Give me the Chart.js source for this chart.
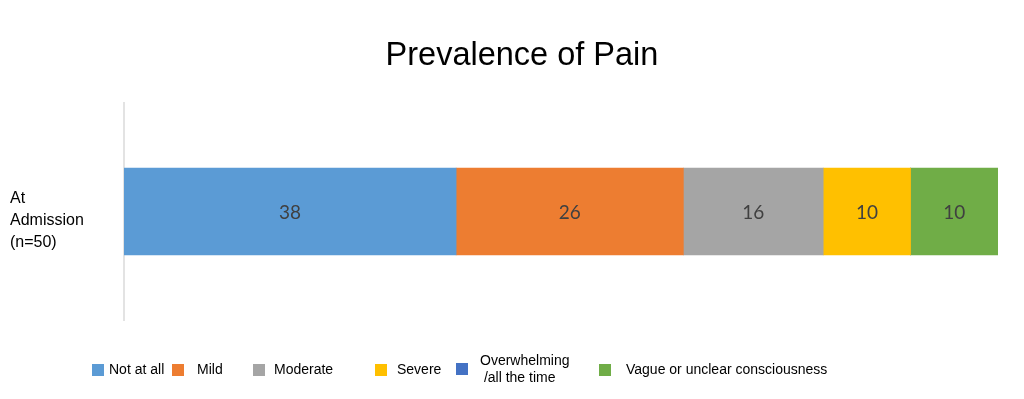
<!DOCTYPE html>
<html lang="en">
<head>
    <meta charset="UTF-8">
    <title>Prevalence of Pain</title>
    <script src="https://cdn.jsdelivr.net/npm/chart.js"></script>
    <style>
        body { margin: 0; background: #fff; }
        .wrap { position: relative; width: 1024px; height: 399px; }
        #legenda { position: absolute; left: 0; top: 0; width: 1024px; height: 399px; pointer-events: none;
                   font-family: "Liberation Sans", Arial, sans-serif; font-size: 14px; color: #000; }
        .item { position: absolute; display: flex; align-items: center; }
        .caixa { width: 12px; height: 12px; }
    </style>
</head>
<body>
<div class="wrap">
    <canvas id="myChart" width="1024" height="399"></canvas>
    <div id="legenda"></div>
</div>
<script>
    const categorias = [['At', 'Admission', '(n=50)']];
    const series = ['Not at all', 'Mild', 'Moderate', 'Severe', 'Overwhelming\n/all the time', 'Vague or unclear consciousness'];
    const valores = [38, 26, 16, 10, 0, 10];
    const cores = ['#5B9BD5', '#ED7D31', '#A5A5A5', '#FFC000', '#4472C4', '#70AD47'];

    // posição das entradas da legenda (como no original, espaçamento irregular)
    const legendaX = [92, 172, 253, 375, 456, 599];
    const legendaGap = [5, 13, 9, 10, 12, 15];

    const datasets = series.map((nome, i) => ({
        label: nome,
        data: [valores[i]],
        backgroundColor: cores[i],
        borderWidth: 0,
        barThickness: 87
    }));

    const rotulos = {
        id: 'rotulos',
        afterLayout(chart) {
            // o título do original fica um pouco à direita do centro
            const t = chart.titleBlock;
            if (t) { t.left += 18; t.right += 18; }
        },
        afterDatasetsDraw(chart) {
            const ctx = chart.ctx;
            ctx.save();
            ctx.font = '19px Lato, "Open Sans", sans-serif';
            ctx.fillStyle = '#404040';
            ctx.textAlign = 'center';
            ctx.textBaseline = 'middle';
            chart.data.datasets.forEach((ds, i) => {
                const meta = chart.getDatasetMeta(i);
                meta.data.forEach((bar, j) => {
                    const v = ds.data[j];
                    if (!v) return;
                    const meio = (bar.x + bar.base) / 2;
                    ctx.fillText(String(v), meio, bar.y + 1);
                });
            });
            ctx.restore();
        }
    };

    new Chart(document.getElementById('myChart'), {
        type: 'bar',
        data: { labels: categorias, datasets: datasets },
        options: {
            indexAxis: 'y',
            responsive: false,
            animation: false,
            layout: { padding: { left: 10, right: 26, top: 0, bottom: 79 } },
            plugins: {
                legend: { display: false },
                tooltip: { enabled: false },
                title: {
                    display: true,
                    text: 'Prevalence of Pain',
                    color: '#000',
                    font: { family: '"Liberation Sans", Arial, sans-serif', size: 32.5, weight: 'normal' },
                    padding: { top: 37, bottom: 27 }
                }
            },
            scales: {
                x: { stacked: true, min: 0, max: 100, display: false },
                y: {
                    stacked: true,
                    grid: { display: false },
                    border: { color: '#e3e3e3', width: 2 },
                    ticks: {
                        crossAlign: 'far',
                        color: '#000',
                        padding: 0,
                        labelOffset: 9,
                        font: { family: '"Liberation Sans", Arial, sans-serif', size: 16, lineHeight: 1.35 }
                    },
                    afterFit(scale) { scale.width = 114; }
                }
            }
        },
        plugins: [rotulos]
    });

    const legenda = document.getElementById('legenda');
    series.forEach((nome, i) => {
        const item = document.createElement('div');
        item.className = 'item';
        const linhas = nome.split('\n');
        item.style.left = legendaX[i] + 'px';
        item.style.top = (linhas.length > 1 ? 352 : 361) + 'px';
        const caixa = document.createElement('div');
        caixa.className = 'caixa';
        caixa.style.background = cores[i];
        caixa.style.marginRight = legendaGap[i] + 'px';
        const txt = document.createElement('div');
        txt.style.lineHeight = '17px';
        txt.innerHTML = linhas.map((l, k) => k > 0 ? '&nbsp;' + l : l).join('<br>');
        item.appendChild(caixa);
        item.appendChild(txt);
        legenda.appendChild(item);
    });
</script>
</body>
</html>
